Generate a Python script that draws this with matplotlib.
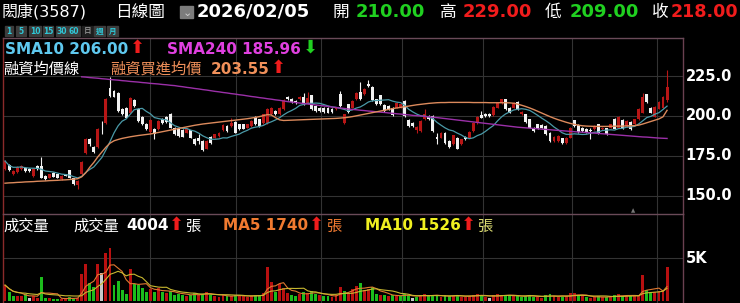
import numpy as np
import pandas as pd
import matplotlib
matplotlib.use('Agg')
import matplotlib.pyplot as plt
from matplotlib.patches import Rectangle
from matplotlib.transforms import blended_transform_factory as blend

W, H = 740, 303
FONTS = ['DejaVu Sans', 'Noto Sans CJK TC']

# daily candles, oldest first (last = 2026/02/05)
opens = [166.7, 169.2, 163.5, 165.0, 166.7, 167.7, 167.1, 162.5, 168.8, 168.8,
         162.5, 161.5, 164.6, 163.5, 160.8, 163.5, 166.0, 161.0, 156.7, 163.5,
         177.1, 185.8, 180.8, 180.8, 191.7, 195.8, 217.3, 215.6, 214.6, 204.2,
         205.2, 202.1, 210.0, 204.2, 199.6, 194.8, 190.0, 192.1, 191.7, 197.9,
         199.6, 201.0, 192.7, 191.7, 191.0, 189.6, 191.0, 185.8, 186.5, 184.4,
         179.6, 187.1, 186.5, 187.5, 191.3, 193.8, 193.8, 196.3, 194.8, 194.8,
         192.7, 193.8, 199.6, 197.9, 195.8, 195.8, 201.0, 203.1, 201.0, 204.2,
         212.1, 210.8, 209.4, 210.4, 212.1, 208.3, 212.9, 206.3, 205.2, 205.2,
         205.2, 204.2, 204.2, 213.5, 195.8, 207.3, 205.2, 210.4, 215.0, 213.5,
         219.8, 218.3, 210.4, 212.9, 206.7, 206.3, 205.2, 205.2, 205.8, 209.4,
         197.5, 195.8, 191.5, 190.6, 197.9, 200.0, 200.0, 187.1, 186.5, 189.6,
         184.4, 182.3, 186.5, 182.3, 187.1, 186.5, 190.6, 195.8, 200.4, 201.5,
         201.5, 200.4, 205.2, 208.3, 210.4, 205.2, 205.2, 208.8, 201.0, 201.0,
         197.9, 192.7, 194.8, 194.2, 193.8, 189.2, 184.4, 184.4, 186.0, 183.3,
         186.5, 197.3, 194.2, 192.7, 191.7, 191.0, 191.7, 194.8, 191.7, 192.3,
         192.7, 198.3, 192.7, 197.5, 193.8, 196.3, 194.8, 198.3, 202.1, 213.5,
         205.2, 199.6, 204.6, 205.2, 210.0]
highs = [172.5, 169.8, 166.2, 168.6, 169.4, 168.3, 167.6, 167.2, 169.5, 174.4,
         163.0, 164.0, 165.0, 164.0, 163.0, 164.0, 166.5, 161.5, 160.0, 172.0,
         186.0, 186.5, 181.5, 192.2, 196.9, 211.0, 224.6, 216.2, 215.2, 204.8,
         205.8, 212.1, 210.6, 204.8, 200.2, 195.4, 198.0, 192.6, 197.4, 198.5,
         200.2, 201.6, 193.2, 192.2, 191.6, 192.2, 191.5, 186.3, 188.5, 185.0,
         185.0, 187.6, 189.0, 190.1, 194.7, 194.3, 199.0, 196.8, 195.3, 195.3,
         195.3, 197.4, 200.2, 198.4, 201.5, 204.8, 205.8, 203.6, 205.8, 210.6,
         212.7, 211.3, 209.9, 212.6, 214.6, 215.2, 213.4, 206.8, 205.7, 205.7,
         205.7, 204.7, 205.7, 215.6, 201.5, 207.8, 209.9, 215.1, 221.3, 217.2,
         222.5, 218.8, 210.9, 213.4, 207.2, 206.8, 205.7, 208.8, 207.8, 209.9,
         198.0, 196.3, 193.8, 197.4, 204.2, 200.5, 200.5, 189.6, 190.1, 190.1,
         184.9, 188.4, 187.0, 185.9, 187.6, 190.5, 196.3, 200.1, 203.1, 202.0,
         202.0, 206.1, 208.8, 210.9, 210.9, 205.7, 208.8, 209.3, 203.0, 201.5,
         198.4, 193.2, 195.3, 194.7, 194.3, 189.7, 187.6, 188.0, 186.5, 187.0,
         193.2, 197.8, 194.7, 193.2, 192.2, 192.7, 194.3, 195.3, 193.2, 192.8,
         195.3, 198.8, 200.1, 198.0, 197.4, 196.8, 198.4, 205.1, 214.2, 214.0,
         205.7, 206.3, 209.3, 212.6, 229.0]
lows = [166.2, 165.6, 163.0, 164.6, 166.2, 165.2, 165.0, 162.0, 166.5, 161.0,
        160.3, 161.0, 161.6, 161.0, 160.3, 162.3, 161.0, 156.8, 154.6, 163.0,
        176.5, 181.5, 176.8, 180.2, 188.5, 195.2, 212.0, 211.6, 202.6, 200.5,
        198.5, 201.6, 205.8, 196.4, 194.3, 191.2, 189.5, 185.4, 191.2, 195.3,
        195.8, 192.2, 188.0, 187.0, 186.6, 189.1, 186.0, 181.8, 182.3, 178.2,
        179.1, 182.8, 186.0, 187.0, 190.8, 190.1, 193.3, 189.1, 191.2, 191.6,
        192.2, 193.3, 194.3, 193.3, 195.3, 195.3, 200.5, 200.5, 200.5, 203.7,
        209.9, 208.3, 207.8, 209.9, 206.8, 207.8, 203.7, 202.6, 202.6, 202.0,
        201.6, 202.0, 203.7, 205.8, 195.3, 202.0, 204.7, 209.9, 209.9, 213.0,
        218.3, 209.5, 206.8, 206.8, 202.6, 203.7, 200.1, 204.7, 205.3, 199.5,
        193.3, 193.3, 189.2, 190.1, 197.4, 197.8, 190.1, 182.3, 186.0, 182.8,
        180.3, 181.8, 179.1, 181.8, 184.9, 186.0, 190.1, 195.3, 198.5, 199.5,
        199.5, 199.9, 204.7, 207.8, 203.7, 201.6, 204.7, 203.7, 200.5, 195.8,
        192.2, 190.1, 191.6, 192.2, 188.0, 183.9, 183.9, 183.9, 182.8, 182.8,
        186.0, 193.3, 189.5, 190.1, 189.1, 185.8, 191.2, 188.7, 191.2, 188.0,
        192.2, 191.6, 192.2, 191.6, 193.3, 191.2, 194.3, 197.8, 201.6, 208.3,
        201.6, 199.1, 204.1, 204.7, 209.0]
closes = [171.9, 166.3, 165.6, 168.1, 168.8, 165.6, 165.6, 166.7, 167.0, 161.5,
          160.8, 163.5, 162.1, 161.5, 162.5, 162.8, 161.5, 157.3, 159.4, 171.3,
          185.4, 182.3, 177.5, 191.7, 191.7, 210.4, 212.5, 212.1, 203.1, 201.0,
          199.0, 211.5, 206.3, 196.9, 194.8, 191.7, 197.5, 188.5, 196.9, 195.8,
          196.3, 192.7, 188.5, 187.5, 187.1, 191.7, 186.5, 182.3, 184.4, 178.8,
          184.4, 183.3, 188.5, 189.6, 194.2, 190.6, 195.8, 189.6, 191.7, 192.1,
          194.8, 196.9, 194.8, 193.8, 201.0, 204.2, 205.2, 201.0, 205.2, 210.0,
          210.4, 208.8, 208.3, 212.1, 207.3, 211.5, 204.2, 203.1, 203.3, 202.5,
          202.1, 202.5, 205.2, 206.3, 201.0, 202.5, 209.4, 214.6, 210.4, 216.7,
          218.8, 210.0, 207.3, 207.4, 203.1, 204.2, 200.6, 208.3, 207.3, 200.0,
          193.8, 193.8, 193.3, 196.9, 201.0, 198.3, 190.6, 185.4, 189.6, 183.3,
          180.8, 187.9, 179.6, 185.4, 185.6, 190.0, 195.8, 199.6, 199.0, 200.0,
          200.0, 205.6, 208.3, 210.4, 204.2, 202.1, 208.3, 204.2, 202.5, 196.3,
          192.7, 190.6, 192.1, 192.7, 188.5, 184.4, 187.1, 187.5, 183.3, 186.5,
          192.7, 193.8, 190.0, 190.6, 189.6, 190.6, 193.8, 189.2, 192.7, 188.5,
          194.8, 192.1, 199.6, 192.1, 196.9, 191.7, 197.9, 204.6, 212.1, 208.8,
          202.1, 205.8, 208.8, 212.1, 218.0]
volumes = [1900, 1080, 580, 690, 690, 850, 460, 580, 460, 2890,
           460, 460, 310, 310, 310, 310, 540, 310, 460, 3160,
           4310, 2120, 1730, 4310, 3270, 5580, 6160, 1925, 2390, 1350,
           850, 3770, 2000, 1925, 1540, 1080, 1460, 1080, 1600, 1080,
           960, 1230, 770, 900, 700, 650, 800, 1000, 750, 900,
           1100, 800, 600, 550, 700, 650, 600, 800, 700, 600,
           550, 650, 800, 700, 1000, 4040, 2230, 1080, 2000, 1540,
           1000, 800, 650, 900, 1100, 1000, 1200, 900, 700, 650,
           600, 550, 700, 1730, 1200, 1000, 1500, 1800, 2120, 1300,
           1400, 1730, 900, 750, 700, 600, 800, 650, 600, 900,
           700, 460, 500, 800, 900, 600, 700, 650, 550, 700,
           600, 650, 800, 500, 550, 600, 800, 900, 700, 500,
           400, 700, 900, 800, 700, 600, 650, 700, 500, 600,
           800, 500, 550, 450, 700, 900, 600, 500, 550, 600,
           1000, 950, 700, 600, 500, 450, 500, 600, 550, 500,
           600, 700, 900, 600, 650, 650, 700, 780, 3080, 1350,
           1050, 1060, 1200, 1386, 4004]

# SMA240 only shown from candle 19 on
sma240_start = 19
sma240 = [224.5, 224.3, 224.0, 223.8, 223.6, 223.3, 223.1, 222.8, 222.6, 222.4,
          222.1, 221.9, 221.6, 221.4, 221.2, 220.9, 220.7, 220.4, 220.2, 220.0,
          219.7, 219.5, 219.2, 219.0,
          218.6, 218.3, 217.9, 217.6, 217.2, 216.9, 216.5, 216.2, 215.8, 215.4,
          215.1, 214.7, 214.4, 214.0, 213.7, 213.3, 213.0, 212.6, 212.2, 211.9,
          211.5, 211.2, 210.8, 210.5, 210.1, 209.8, 209.4, 209.0,
          208.7, 208.4, 208.1, 207.8, 207.5, 207.2, 206.9, 206.6, 206.3, 206.0,
          205.6, 205.3, 205.0, 204.7, 204.4,
          204.1, 203.9, 203.6, 203.4, 203.1, 202.9, 202.6, 202.4, 202.2, 201.9,
          201.7, 201.4, 201.2, 200.9, 200.7, 200.4, 200.2, 200.0, 199.7, 199.5,
          199.2, 199.0,
          198.7, 198.4, 198.1, 197.8, 197.5, 197.2, 196.9, 196.6, 196.3, 196.0,
          195.7, 195.4, 195.1, 194.8, 194.5, 194.2, 193.9, 193.6, 193.3, 193.0,
          192.8, 192.6, 192.4, 192.2, 192.0, 191.8, 191.6, 191.4, 191.2, 191.0,
          190.8, 190.6, 190.4, 190.2, 190.0, 189.9, 189.7, 189.5, 189.3, 189.1,
          188.9, 188.7, 188.5, 188.3, 188.1, 187.9, 187.7, 187.5, 187.3, 187.1,
          186.9, 186.8, 186.6, 186.4, 186.2, 186.1, 185.96]
# 融資均價線
margin_avg = [158.0, 158.2, 158.3, 158.5, 158.6, 158.8, 158.9, 159.0, 159.2, 159.3,
              159.4, 159.6, 159.7, 159.8, 160.0, 160.1, 160.3, 160.5, 160.8,
              162.0, 164.5, 168.0, 171.0, 174.5, 177.5, 180.5,
              183.0, 184.5, 185.3, 186.0, 186.5, 187.0, 187.4, 187.8, 188.1, 188.4, 188.75,
              189.2, 189.7, 190.2, 190.7, 191.2, 191.7, 192.2, 192.7, 193.2, 193.7,
              194.2, 194.6, 195.0, 195.3,
              195.6, 195.9, 196.2, 196.5, 196.8, 197.1, 197.4, 197.7, 198.0, 198.3,
              198.7, 199.1, 199.6, 200.2, 200.9,
              200.6, 199.0, 197.6, 197.2, 197.3,
              197.4, 197.5, 197.6, 197.7, 197.8, 197.9, 198.0, 198.1, 198.2, 198.3,
              198.4, 198.5, 198.7, 198.9, 199.2, 199.6, 200.1, 200.6, 201.1, 201.6,
              202.1, 202.6,
              203.1, 203.6, 204.1, 204.6, 205.0, 205.4, 205.8, 206.2, 206.6, 207.0,
              207.3, 207.6, 207.9, 208.1, 208.3,
              208.4, 208.4, 208.5, 208.5, 208.5, 208.5, 208.5, 208.5, 208.4, 208.4,
              208.4, 208.4, 208.3, 208.3, 208.3, 208.3, 208.3, 208.2, 208.0,
              207.4, 206.7, 205.9, 205.0, 204.0, 202.9, 201.8, 200.7, 199.6, 198.6,
              197.7, 196.9, 196.1, 195.4, 194.8, 194.3,
              193.9, 193.7, 193.6, 193.5, 193.5, 193.5, 193.5, 193.6, 193.6, 193.7,
              193.7, 193.8, 193.9, 194.0, 194.3, 195.0, 195.8, 196.6,
              197.4, 198.2, 199.5, 203.55]

month_ticks = [35.9, 57.2, 78.3, 98.3, 118.4, 140.4, 161.5]
price_ticks = [225, 200, 175, 150]

RED = '#b81616'
WHITE = '#f2f2f2'
GRID = '#333333'

o = np.array(opens); h = np.array(highs); l = np.array(lows); c = np.array(closes)
v = np.array(volumes, dtype=float)
x = np.arange(len(c))
sma10 = pd.Series(c).rolling(10, min_periods=1).mean()
vma5 = pd.Series(v).rolling(5, min_periods=1).mean()
vma10 = pd.Series(v).rolling(10, min_periods=1).mean()

fig = plt.figure(figsize=(W / 100, H / 100), dpi=100, facecolor='black')
axp = fig.add_axes([3 / W, (H - 214) / H, 680 / W, 176 / H], facecolor='black')
axv = fig.add_axes([3 / W, 0, 680 / W, (H - 214) / H], facecolor='black')

for ax in (axp, axv):
    ax.set_xlim(-0.5, 167.95)
    ax.set_xticks(month_ticks)
    ax.tick_params(length=0, labelbottom=False, labelleft=False)
    ax.grid(True, color=GRID, lw=0.8)
    ax.set_axisbelow(True)
    ax.spines['left'].set_color('#8a2a2a')
    ax.spines['right'].set_color('#6a4050')
    ax.spines['top'].set_color('#6a4a58')
    ax.spines['bottom'].set_visible(False)
    for s in ax.spines.values():
        s.set_linewidth(1)

# price pane
axp.set_ylim(138.75, 248.75)
axp.set_yticks(price_ticks)
up = c > o
cols = np.where(up, RED, WHITE)
axp.vlines(x, l, h, colors=cols, lw=0.8, zorder=3)
axp.bar(x, np.maximum(np.abs(c - o), 0.3), bottom=np.minimum(o, c), width=0.72,
        color=cols, linewidth=0, zorder=4)
axp.plot(x, sma10, color='#4a9aa8', lw=0.9, zorder=5)
axp.plot(np.arange(sma240_start, sma240_start + len(sma240)), sma240,
         color='#9b30a8', lw=1.0, zorder=5)
axp.plot(x, margin_avg, color='#dc8a5c', lw=1.0, zorder=5)
tr = blend(axp.transAxes, axp.transData)
for p in price_ticks:
    axp.text(1.004, p, f'{p:.1f}', transform=tr, color='white', fontsize=10.5,
             fontweight='bold', va='center', ha='left', clip_on=False)
axp.text(155.6, 0.005, '▲', transform=blend(axp.transData, axp.transAxes),
         color='#777777', fontsize=4, ha='center', va='bottom')

# volume pane
axv.set_ylim(-174, 10127)
axv.set_yticks([5000])
prev = np.concatenate([[o[0]], c[:-1]])
vcols = np.where(c > prev, '#b81010', np.where(c < prev, '#1cbc1c', '#c8c8c8'))
axv.bar(x, v, width=0.72, color=vcols, linewidth=0, zorder=3)
axv.plot(x, vma5, color='#e07830', lw=0.8, zorder=4)
axv.plot(x, vma10, color='#c8b830', lw=0.8, zorder=4)
axv.text(1.004, 5000, '5K', transform=blend(axv.transAxes, axv.transData),
         color='white', fontsize=10.5, fontweight='bold', va='center', ha='left',
         clip_on=False)


def T(px, py, s, color='white', size=11, bold=False):
    fig.text(px / W, 1 - py / H, s, color=color, fontsize=size,
             fontweight='bold' if bold else 'normal', family=FONTS,
             va='center', ha='left')


# header
T(2, 12, '閎康(3587)', size=11.5)
T(115, 12, '日線圖', size=12)
fig.patches.append(Rectangle((180 / W, 1 - 18 / H), 13 / W, 12 / H,
                             transform=fig.transFigure, color='#7c7c7c'))
T(182.5, 12.5, '⌄', color='#d0d0d0', size=8)
T(197, 12, '2026/02/05', size=13, bold=True)
T(333, 12, '開', size=12)
T(356, 12, '210.00', color='#20d020', size=13, bold=True)
T(440, 12, '高', size=12)
T(463, 12, '229.00', color='#f01c1c', size=13, bold=True)
T(545, 12, '低', size=12)
T(570, 12, '209.00', color='#20d020', size=13, bold=True)
T(652, 12, '收', size=12)
T(671, 12, '218.00', color='#f01c1c', size=12.6, bold=True)

buttons = [('1', 5, 13), ('5', 16, 26), ('10', 29, 41), ('15', 43, 53), ('30', 56, 67),
           ('60', 68, 80), ('日', 82, 93), ('週', 94, 105), ('月', 107, 118)]
for lab, x0, x1 in buttons:
    face = '#1e1e1e' if lab == '日' else '#3c3c3c'
    tc = '#8a8a8a' if lab == '日' else '#2ec8d8'
    fig.patches.append(Rectangle((x0 / W, 1 - 36 / H), (x1 - x0) / W, 10 / H,
                                 transform=fig.transFigure, color=face))
    fig.text((x0 + x1) / 2 / W, 1 - 31 / H, lab, color=tc, fontsize=5.5,
             fontweight='bold', family=FONTS, ha='center', va='center')

UP, DN = '⬆', '⬇'
AS = 13
# price legends
T(5, 49, 'SMA10 206.00', color='#5ec8ee', bold=True)
T(130, 48, UP, color='#f01c1c', size=AS)
T(167, 49, 'SMA240 185.96', color='#e040e0', bold=True)
T(303, 48, DN, color='#20d020', size=AS)
T(3, 69, '融資均價線')
T(110, 69, '融資買進均價', color='#f0905a')
T(211, 69, '203.55', color='#f0905a', bold=True)
T(271, 68, UP, color='#f01c1c', size=AS)

# volume legends
T(3, 226, '成交量')
T(73, 226, '成交量')
T(126, 226, '4004', bold=True)
T(169, 225, UP, color='#f01c1c', size=AS)
T(185, 226, '張')
T(223, 226, 'MA5 1740', color='#f07a30', bold=True)
T(309, 225, UP, color='#f01c1c', size=AS)
T(326, 226, '張', color='#f07a30')
T(365, 226, 'MA10 1526', color='#f0f020', bold=True)
T(461, 225, UP, color='#f01c1c', size=AS)
T(477, 226, '張', color='#d8d870')

fig.savefig('out.png', dpi=100, facecolor='black')
